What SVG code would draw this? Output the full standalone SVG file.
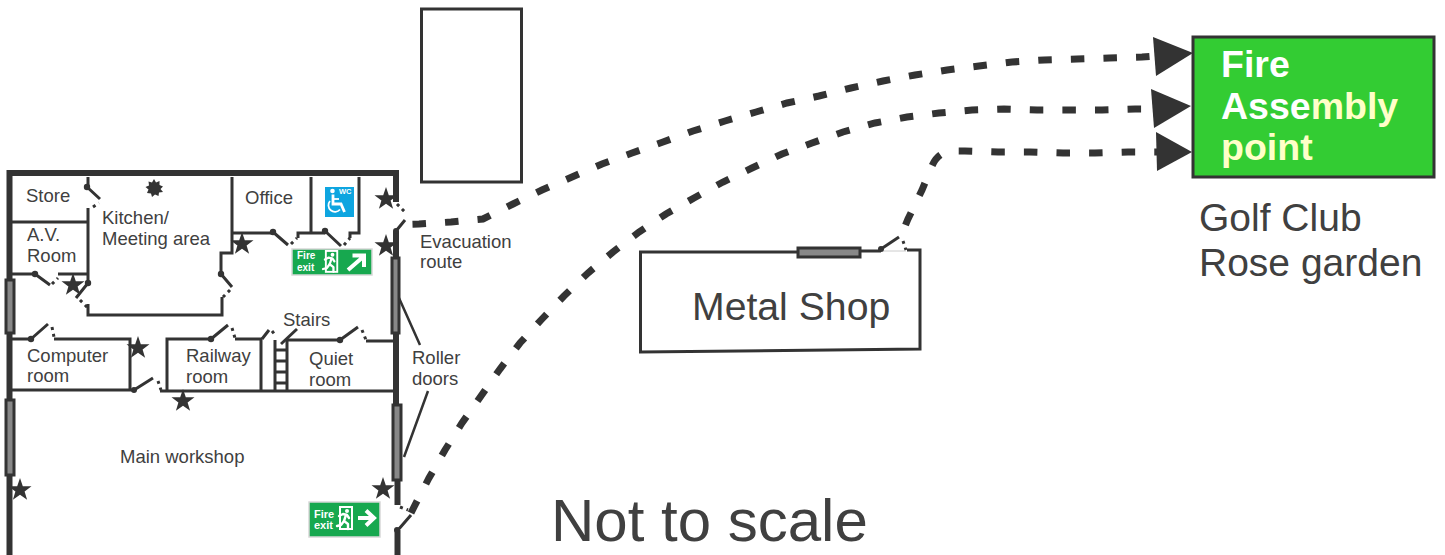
<svg xmlns="http://www.w3.org/2000/svg" width="1445" height="555" viewBox="0 0 1445 555">
<style>
text{font-family:"Liberation Sans",Arial,sans-serif;fill:#404040}
.t18{font-size:18.5px}
.outer{fill:none;stroke:#333;stroke-width:6}
.wall{fill:none;stroke:#333;stroke-width:3}
.door{fill:none;stroke:#333;stroke-width:3}
.dots{fill:none;stroke:#333;stroke-width:3;stroke-dasharray:3 4}
.hinge{fill:#333}
.roller{fill:#888;stroke:#333;stroke-width:3}
.route{fill:none;stroke:#333;stroke-width:7;stroke-dasharray:13.500 19.100}
.head{fill:#333}
.star{fill:#333}
.lead{fill:none;stroke:#333;stroke-width:2.5}
.sign{fill:#17a84f;stroke:#d8d8d8;stroke-width:1.5}
.signt{fill:#fff;font-weight:bold}
.big{fill:#fff;font-weight:bold;font-size:37.500px}
.cream{fill:#ffffc8}
</style>
<defs>
<polygon id="star" points="0,-12 2.800,-3.800 11.500,-3.700 4.600,1.400 7.100,9.700 0,4.800 -7.100,9.700 -4.600,1.400 -11.500,-3.700 -2.800,-3.800"/>
<g id="man">
<path d="M2 0H16V24H2Z" fill="#fff"/>
<path d="M4 2H14V22H4Z" fill="#17a84f"/>
<g fill="none" stroke="#fff" stroke-width="2.400" stroke-linecap="round" stroke-linejoin="round">
<path d="M2 10L6 8L10 9L12 12"/><path d="M9 9L7 15L11 18L11 23"/><path d="M7 15L4 19L0 20"/>
</g>
<circle cx="10" cy="5" r="2" fill="#fff"/>
</g>
</defs>

<g id="building-walls">
<path class="outer" d="M9.500 280V173H396V202"/>
<path class="outer" d="M396 231V258"/>
<path class="outer" d="M396 333V405"/>
<path class="outer" d="M397.500 480V505"/>
<path class="outer" d="M397.500 530V555"/>
<path class="outer" d="M9.500 333V400"/>
<path class="outer" d="M9.500 475V555"/>
<rect class="roller" x="6" y="280" width="8" height="53"/>
<rect class="roller" x="6" y="400" width="8" height="75"/>
<rect class="roller" x="392" y="258" width="7" height="75"/>
<rect class="roller" x="393" y="405" width="8" height="75"/>
</g>

<g id="inner-walls">
<path class="wall" d="M10 222H88M88 177V187M88 208V280M10 274H35M58 274H88"/>
<path class="wall" d="M88 304V315H222V297"/>
<path class="wall" d="M221 274V253H232V177M232 233H273M298 238V233H325M350 238V233H359V177M311 177V233"/>
<path class="wall" d="M10 339H31M54 339H130V390M10 390H134M160 391H396"/>
<path class="wall" d="M167 391V339H211M235 339H261V391M287 340H340M366 341H396"/>
<path class="wall" d="M275 340V391M287 340V391M275 350H287M275 361H287M275 372H287M275 383H287"/>
</g>

<g id="doors">
<path class="door" d="M87 187L100 199M35 274L50 285M76 298L88 283M221 274L232 287M273 232L288 245M325 231L341 246M396 231L405 220"/>
<path class="door" d="M31 339L48 324M134 390L153 378M211 339L228 325M262 339L269 330M340 340L358 327M398 530L411 515"/>
<path class="door" d="M281 344L297 329"/>
<path class="dots" d="M93 207L99 203M52 284L58 278M80 300L88 308M230 290L223 297M291 244L297 238M344 245L350 238M397 204L405 212"/>
<path class="dots" d="M52 327L54 337M158 381L161 390M232 328L235 338M272 331L276 336M362 330L366 340M400 507L408 510"/>
<g class="hinge">
<circle cx="87" cy="187" r="3.200"/><circle cx="35" cy="274" r="3.200"/><circle cx="88" cy="283" r="3.200"/><circle cx="221" cy="274" r="3.200"/><circle cx="273" cy="232" r="3.200"/><circle cx="325" cy="231" r="3.200"/><circle cx="396" cy="231" r="3"/>
<circle cx="31" cy="339" r="3.200"/><circle cx="134" cy="390" r="3"/><circle cx="211" cy="339" r="3.200"/><circle cx="340" cy="340" r="3.200"/><circle cx="397" cy="530" r="3"/>
</g>
</g>

<g id="markers">
<use href="#star" class="star" x="386" y="199"/>
<use href="#star" class="star" x="386" y="246"/>
<use href="#star" class="star" x="242" y="244"/>
<use href="#star" class="star" x="73" y="285"/>
<use href="#star" class="star" x="138" y="348"/>
<use href="#star" class="star" x="183" y="401"/>
<use href="#star" class="star" x="20" y="490"/>
<use href="#star" class="star" x="383" y="489"/>
<polygon class="star" points="154,179 156,182.500 159.500,181 159.500,185 163,186.500 160.500,189 163,192 159,192.500 158.500,196 155,194.500 152,197 151,193.500 147,193 148.500,189.500 145.500,187 149,185.500 148.500,181.500 152,182.500"/>
</g>

<g id="labels">
<text class="t18" x="26" y="202">Store</text>
<text class="t18" x="102" y="224">Kitchen/</text>
<text class="t18" x="102" y="245">Meeting area</text>
<text class="t18" x="27" y="241">A.V.</text>
<text class="t18" x="27" y="262">Room</text>
<text class="t18" x="245" y="204">Office</text>
<text class="t18" x="27" y="362">Computer</text>
<text class="t18" x="27" y="382">room</text>
<text class="t18" x="186" y="362">Railway</text>
<text class="t18" x="186" y="383">room</text>
<text class="t18" x="309" y="365">Quiet</text>
<text class="t18" x="309" y="386">room</text>
<text class="t18" x="283" y="326">Stairs</text>
<text class="t18" x="420" y="248">Evacuation</text>
<text class="t18" x="420" y="268">route</text>
<text class="t18" x="412" y="364">Roller</text>
<text class="t18" x="412" y="385">doors</text>
<text class="t18" x="120" y="463">Main workshop</text>
<text x="551" y="541" font-size="60">Not to scale</text>
<path class="lead" d="M399 298L420 345M428 391L404 457"/>
</g>

<g id="fire-exit-sign-upper">
<rect class="sign" x="292" y="249" width="80" height="26"/>
<text class="signt" x="297" y="259" font-size="10">Fire</text>
<text class="signt" x="297" y="271" font-size="10">exit</text>
<use href="#man" transform="translate(323,250) scale(.95)"/>
<path d="M348 270L363 257M352.500 255.500H364V267" fill="none" stroke="#fff" stroke-width="4"/>
</g>

<g id="fire-exit-sign-lower">
<rect class="sign" x="309" y="502" width="71" height="35"/>
<text class="signt" x="314" y="518" font-size="11">Fire</text>
<text class="signt" x="314" y="529" font-size="11">exit</text>
<use href="#man" transform="translate(337,506)"/>
<path d="M358 518H374M366 510.500L374 518L366 525.500" fill="none" stroke="#fff" stroke-width="4"/>
</g>

<g id="wc-sign">
<rect x="325" y="187" width="29" height="30" fill="#0ea5e0"/>
<circle cx="332.500" cy="191" r="2.300" fill="#fff"/>
<path d="M333 194.500V204H341L344.500 212" fill="none" stroke="#fff" stroke-width="2.800"/>
<path d="M333 199H339" fill="none" stroke="#fff" stroke-width="1.800"/>
<path d="M330 201A6.500 6.500 0 1 0 340 209.500" fill="none" stroke="#fff" stroke-width="1.800"/>
<text x="339" y="194" font-size="7.500" font-weight="bold" style="fill:#fff">WC</text>
</g>

<g id="workshop-block">
<rect x="421.500" y="9" width="100" height="173" fill="none" stroke="#333" stroke-width="3"/>
</g>

<g id="metal-shop">
<path class="wall" d="M797 252H640.500V352L920 349V250H907M861 251H881"/>
<rect class="roller" x="798" y="248" width="62" height="9"/>
<path d="M881 251H906" stroke="#ccc" stroke-width="1" fill="none"/>
<path class="door" d="M881 249L899 237"/>
<path class="dots" d="M903 241L906 250"/>
<circle class="hinge" cx="881" cy="249" r="3"/>
<text x="692" y="320" font-size="39.200">Metal Shop</text>
</g>

<g id="connectors">
<path class="route" d="M412.500 224.200L419 224L451 222L483 219L513 204L542 190L572 177L602 164L632 153L663 142L693 131L725 121L756 112L787 103L819 96L851 88L883 81L915 75L947 70L979 66L1012 62L1044 60L1077 59L1109 58L1142 57L1155 56"/>
<path class="route" d="M411 513L414 507L429 478L445 450L462 423L481 396L500 369L520 343L542 319L564 296L588 273L613 252L639 232L666 214L694 198L723 182L752 168L782 154L812 143L843 132L875 123L907 117L939 113L972 110L1004 109L1037 110L1069 110L1102 110L1135 109L1152 109"/>
<path class="route" d="M905.500 225L908 219L922 190L932 166Q938 152 952 151L965 151L998 152L1030 152L1063 153L1095 153L1128 152L1160 152"/>
<polygon class="head" points="1153,37 1193,53 1156,76"/>
<polygon class="head" points="1151,89 1191,106 1154,128"/>
<polygon class="head" points="1156,132 1192,152 1157,171"/>
</g>

<g id="assembly-point">
<rect x="1193" y="37" width="241" height="140" fill="#33cc33" stroke="#333" stroke-width="3"/>
<text class="big" x="1221" y="77">Fire</text>
<text class="big" x="1221" y="119">Asse<tspan class="cream">mbly</tspan></text>
<text class="big cream" x="1221" y="160">point</text>
<text x="1199" y="231" font-size="39">Golf Club</text>
<text x="1199" y="276" font-size="39">Rose garden</text>
</g>
</svg>
